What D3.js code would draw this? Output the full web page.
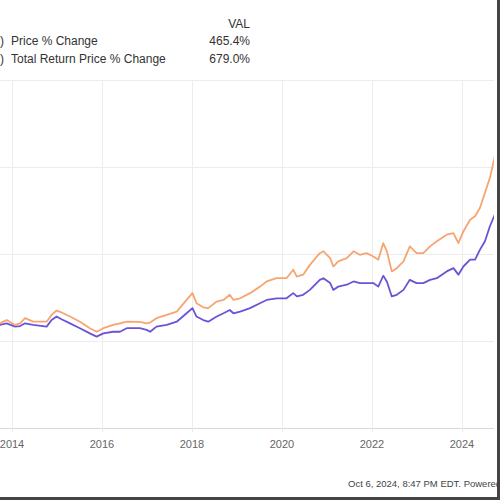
<!DOCTYPE html>
<html><head><meta charset="utf-8">
<script src="https://cdn.jsdelivr.net/npm/d3@7/dist/d3.min.js"></script>
<style>body{margin:0;background:#fff}svg{display:block}text{font-family:"Liberation Sans",Arial,sans-serif}</style>
</head><body>
<script>
// Dates as fractional years, values in % change
const dates = [2013.73,2013.88,2014.07,2014.18,2014.29,2014.47,2014.77,2014.88,2014.99,2015.10,2015.29,2015.51,2015.73,2015.88,2016.03,2016.25,2016.40,2016.55,2016.84,2016.99,2017.07,2017.21,2017.44,2017.66,2017.88,2018.01,2018.10,2018.25,2018.36,2018.55,2018.70,2018.84,2018.92,2019.07,2019.29,2019.51,2019.66,2019.88,2020.10,2020.25,2020.33,2020.47,2020.62,2020.84,2020.92,2021.07,2021.14,2021.25,2021.44,2021.59,2021.73,2021.88,2022.03,2022.14,2022.25,2022.33,2022.44,2022.55,2022.70,2022.84,2022.99,2023.14,2023.29,2023.44,2023.66,2023.81,2023.92,2024.03,2024.18,2024.29,2024.40,2024.51,2024.62,2024.73];
const priceChange = [59,65,53,55,65,59,53,77,90,80,65,47,28,16,28,34,34,47,47,41,34,53,59,71,102,121,90,77,71,90,102,114,102,108,121,139,151,157,157,176,164,170,188,225,231,213,188,200,207,219,213,213,213,200,240,219,164,170,188,225,213,213,225,231,256,268,244,274,299,299,336,367,422,465.4];
const totalReturnChange = [65,77,59,65,84,71,71,96,112,105,90,71,47,34,47,59,65,71,70,65,68,84,96,108,151,176,139,124,121,145,151,170,151,157,176,200,219,231,231,262,237,244,280,323,330,305,274,293,305,330,317,323,311,299,360,330,256,268,293,348,323,323,348,367,391,397,360,403,446,459,490,545,600,679.0];
const yearTicks = [2014,2016,2018,2020,2022,2024];
const yTicks = [-320,0,320,640,960];
const legendHeader = "VAL";
const legendLabels = ["Price % Change","Total Return Price % Change"];
const legendValues = ["465.4%","679.0%"];
const footerText = "Oct 6, 2024, 8:47 PM EDT. Powered by YCHARTS";
const colors = ["#5b3fd4","#f79a60"];

const W=500,H=500;
const svg=d3.select("body").append("svg").attr("width",W).attr("height",H);
const x=d3.scaleLinear().domain([2014,2024]).range([12,462]);
const y=d3.scaleLinear().domain([-320,960]).range([428,80]);
const plotRight=494;

svg.append("defs").append("clipPath").attr("id","clip").append("rect")
  .attr("x",0).attr("y",70).attr("width",plotRight).attr("height",370);

// horizontal gridlines
svg.append("g").selectAll("line").data(yTicks).join("line")
  .attr("x1",0).attr("x2",plotRight)
  .attr("y1",d=>Math.round(y(d))+0.5).attr("y2",d=>Math.round(y(d))+0.5)
  .attr("stroke",d=>d===-320?"#d8d8d8":"#ececec").attr("stroke-width",1);
// vertical gridlines
svg.append("g").selectAll("line").data(yearTicks).join("line")
  .attr("x1",d=>Math.round(x(d))+0.5).attr("x2",d=>Math.round(x(d))+0.5)
  .attr("y1",y(960)).attr("y2",y(-320)+4)
  .attr("stroke","#ececec").attr("stroke-width",1);
// year labels
svg.append("g").selectAll("text").data(yearTicks).join("text")
  .attr("x",d=>x(d)).attr("y",448).attr("text-anchor","middle")
  .attr("font-size",11).attr("fill","#666").text(d=>d);

const series=[priceChange,totalReturnChange];
const line=d3.line().x((d,i)=>x(dates[i])).y(d=>y(d)).curve(d3.curveLinear);
const g=svg.append("g").attr("clip-path","url(#clip)");
[0,1].forEach(k=>{
  g.append("path").datum(series[k]).attr("d",line)
   .attr("fill","none").attr("stroke",colors[k]).attr("stroke-width",1.8)
   .attr("stroke-linejoin","round").attr("opacity",0.9);
});

// legend
const lg=svg.append("g").attr("font-size",12).attr("fill","#333");
lg.append("text").attr("x",250).attr("y",28).attr("text-anchor","end").text(legendHeader);
legendLabels.forEach((t,i)=>{
  const yy=45+i*18;
  lg.append("text").attr("x",0).attr("y",yy).text(")");
  lg.append("text").attr("x",11).attr("y",yy).text(t);
  lg.append("text").attr("x",250).attr("y",yy).attr("text-anchor","end").text(legendValues[i]);
});

// footer
svg.append("text").attr("x",348).attr("y",487).attr("font-size",9.5).attr("fill","#444").text(footerText);

// frame border (right & bottom)
svg.append("line").attr("x1",498.5).attr("x2",498.5).attr("y1",0).attr("y2",H).attr("stroke","#444").attr("stroke-width",3);
svg.append("line").attr("x1",0).attr("x2",W).attr("y1",498.5).attr("y2",498.5).attr("stroke","#444").attr("stroke-width",3);
</script>
</body></html>
